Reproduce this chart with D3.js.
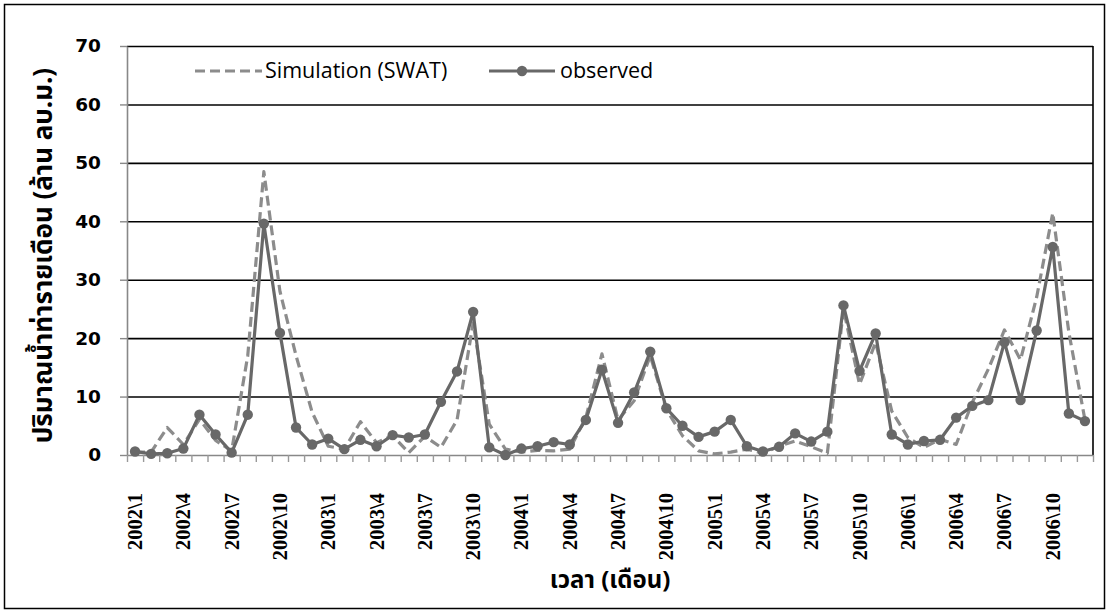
<!DOCTYPE html>
<html>
<head>
<meta charset="utf-8">
<script src="https://cdn.jsdelivr.net/npm/d3@7"></script>
<style>
  html, body { margin: 0; padding: 0; background: #fff; }
  svg { display: block; }
</style>
</head>
<body>
<svg id="chart" width="1109" height="614"></svg>
<script>
// ---------------- data ----------------
const years = [2002, 2003, 2004, 2005, 2006];
const monthsOfYear = [1,2,3,4,5,6,7,8,9,10,11,12];
const categories = [];
years.forEach(y => monthsOfYear.forEach(m => categories.push(y + "\\" + m)));

const tickLabels = [
  "2002\\1","2002\\4","2002\\7","2002\\10",
  "2003\\1","2003\\4","2003\\7","2003\\10",
  "2004\\1","2004\\4","2004\\7","2004\\10",
  "2005\\1","2005\\4","2005\\7","2005\\10",
  "2006\\1","2006\\4","2006\\7","2006\\10"
];

const simulated = [
  0.5, 0.5, 4.7, 1.8, 6.1, 2.5, 0.7, 17.0, 48.5, 28.0, 17.0, 7.3,
  1.5, 1.0, 5.7, 2.1, 3.3, 0.4, 3.2, 1.3, 6.0, 22.6, 5.3, 1.0,
  0.5, 0.8, 0.7, 1.0, 6.4, 17.3, 6.0, 9.3, 17.0, 7.8, 3.3, 0.7,
  0.2, 0.5, 1.0, 0.3, 1.5, 2.4, 1.4, 0.3, 25.0, 12.1, 19.3, 7.5,
  3.0, 1.3, 2.7, 1.8, 9.0, 14.7, 21.4, 16.3, 27.0, 41.4, 21.0, 6.0
];

const observed = [
  0.6, 0.2, 0.3, 1.1, 6.9, 3.5, 0.4, 6.9, 39.6, 20.9, 4.7, 1.8,
  2.8, 1.0, 2.6, 1.5, 3.4, 3.0, 3.5, 9.1, 14.3, 24.5, 1.3, 0.0,
  1.1, 1.5, 2.2, 1.8, 6.0, 14.6, 5.5, 10.7, 17.7, 8.0, 5.0, 3.1,
  4.0, 6.0, 1.5, 0.6, 1.4, 3.7, 2.3, 4.0, 25.6, 14.4, 20.8, 3.5,
  1.8, 2.4, 2.6, 6.4, 8.4, 9.4, 19.3, 9.4, 21.3, 35.6, 7.1, 5.8
];

const yTicks = [0, 10, 20, 30, 40, 50, 60, 70];
const seriesNames = ["Simulation (SWAT)", "observed"];
const yTitle = "ปริมาณน้ำท่ารายเดือน (ล้าน ลบ.ม.)";
const xTitle = "เวลา (เดือน)";

// ---------------- layout ----------------
const svg = d3.select("#chart");
const L = 127, R = 1093, T = 46, B = 455;
const simColor = "#8c8c8c", obsColor = "#686868";
const thaiFont = "'Noto Sans Thai','Noto Serif Thai','Loma','Garuda','Norasi','Tlwg Typo','DejaVu Sans',sans-serif";

// outer frame
svg.append("rect").attr("x", 4.5).attr("y", 4.5).attr("width", 1100).attr("height", 604)
  .attr("fill", "#fff").attr("stroke", "#000").attr("stroke-width", 1.5);

const x = d3.scaleBand().domain(categories).range([L, R]);
const xIdx = d3.scaleLinear().domain([0, categories.length]).range([L, R]);
const y = d3.scaleLinear().domain([0, 70]).range([B, T]);
const cx = c => x(c) + x.bandwidth() / 2;

// gridlines
svg.append("g")
  .attr("transform", `translate(${L},0)`)
  .call(d3.axisLeft(y).tickValues(yTicks.filter(v => v > 0)).tickSize(-(R - L)).tickFormat(""))
  .call(g => g.select(".domain").remove())
  .call(g => g.selectAll("line").attr("stroke", "#000").attr("stroke-width", 1.6));

// right border
svg.append("line").attr("x1", R).attr("x2", R).attr("y1", T).attr("y2", B)
  .attr("stroke", "#000").attr("stroke-width", 1.6);

// y axis
svg.append("g")
  .attr("transform", `translate(${L},0)`)
  .call(d3.axisLeft(y).tickValues(yTicks).tickSize(7).tickPadding(19).tickSizeOuter(0))
  .call(g => g.select(".domain").attr("stroke", "#888").attr("stroke-width", 1.6))
  .call(g => g.selectAll(".tick line").attr("stroke", "#888").attr("stroke-width", 1.4))
  .call(g => g.selectAll("text")
    .attr("font-family", "'DejaVu Sans', sans-serif")
    .attr("font-weight", "bold").attr("font-size", 18.5).attr("fill", "#000"));

// x axis ticks
svg.append("g")
  .attr("transform", `translate(0,${B})`)
  .call(d3.axisBottom(xIdx).tickValues(d3.range(categories.length + 1)).tickSize(7).tickFormat("").tickSizeOuter(0))
  .call(g => g.select(".domain").attr("stroke", "#888").attr("stroke-width", 1.6))
  .call(g => g.selectAll(".tick line").attr("stroke", "#999").attr("stroke-width", 1.4));

// x tick labels
svg.append("g").selectAll("text").data(tickLabels).join("text")
  .attr("transform", d => `translate(${cx(d) + 7},493) rotate(-90)`)
  .attr("text-anchor", "end")
  .attr("font-family", "'Liberation Serif','Times New Roman',serif")
  .attr("font-weight", "bold").attr("font-size", 20.5)
  .attr("fill", "#000")
  .text(d => d);

// lines
const simData = categories.map((c, i) => ({ c, v: simulated[i] }));
const obsData = categories.map((c, i) => ({ c, v: observed[i] }));
const line = d3.line().x(d => cx(d.c)).y(d => y(d.v));

svg.append("path").datum(simData)
  .attr("d", line)
  .attr("fill", "none").attr("stroke", simColor).attr("stroke-width", 3.2)
  .attr("stroke-linejoin", "round")
  .attr("stroke-dasharray", "10,5");

svg.append("path").datum(obsData)
  .attr("d", line)
  .attr("fill", "none").attr("stroke", obsColor).attr("stroke-width", 3.2)
  .attr("stroke-linejoin", "round");

svg.append("g").selectAll("circle").data(obsData).join("circle")
  .attr("cx", d => cx(d.c)).attr("cy", d => y(d.v)).attr("r", 5.2)
  .attr("fill", obsColor);

// legend
const lg = svg.append("g");
lg.append("line").attr("x1", 195).attr("x2", 262).attr("y1", 71).attr("y2", 71)
  .attr("stroke", simColor).attr("stroke-width", 3.2).attr("stroke-dasharray", "10,5");
lg.append("text").attr("x", 265).attr("y", 78).text(seriesNames[0])
  .attr("font-family", "'Open Sans', sans-serif").attr("font-size", 21.5).attr("fill", "#000");
lg.append("line").attr("x1", 489).attr("x2", 555).attr("y1", 71).attr("y2", 71)
  .attr("stroke", obsColor).attr("stroke-width", 3.2);
lg.append("circle").attr("cx", 522).attr("cy", 71).attr("r", 5.2).attr("fill", obsColor);
lg.append("text").attr("x", 560).attr("y", 78).text(seriesNames[1])
  .attr("font-family", "'Open Sans', sans-serif").attr("font-size", 21.5).attr("fill", "#000");

// axis titles
svg.append("text")
  .attr("transform", `translate(52,${(T + B) / 2 + 5}) rotate(-90)`)
  .attr("text-anchor", "middle")
  .attr("font-family", thaiFont).attr("font-size", 26).attr("font-weight", "bold")
  .attr("fill", "#000").text(yTitle);

svg.append("text")
  .attr("x", 610).attr("y", 588)
  .attr("text-anchor", "middle")
  .attr("font-family", thaiFont).attr("font-size", 24).attr("font-weight", "bold")
  .attr("fill", "#000").text(xTitle);
</script>
</body>
</html>
